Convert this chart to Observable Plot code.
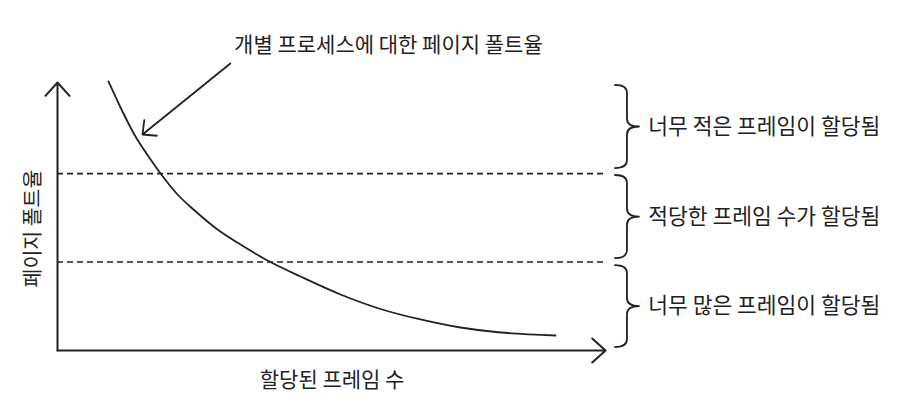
<!DOCTYPE html>
<html>
<head>
<meta charset="utf-8">
<script src="https://cdn.jsdelivr.net/npm/d3@7"></script>
<script src="https://cdn.jsdelivr.net/npm/@observablehq/plot@0.6"></script>
<style>
  html, body { margin: 0; padding: 0; background: #fff; }
  #chart svg { display: block; }
</style>
</head>
<body>
<div id="chart"></div>
<script>
// ---- data ----
const curveX = [9.32, 11.88, 14.26, 16.64, 18.83, 21.94, 24.86, 29.25, 33.46, 38.39, 44.42, 51.74, 59.05, 66.36, 73.67, 80.99, 91.04];
const curveY = [100.4, 89.18, 79.85, 72.39, 66.04, 58.21, 52.61, 45.15, 39.55, 33.58, 27.61, 20.90, 15.49, 11.57, 8.58, 6.72, 5.60];
const thresholds = [66, 33];
const bandTop = [98.9, 65.3, 31.7];
const bandBottom = [67.9, 34.3, 1.1];
const bandLabels = ["너무 적은 프레임이 할당됨", "적당한 프레임 수가 할당됨", "너무 많은 프레임이 할당됨"];
const titleText = "개별 프로세스에 대한 페이지 폴트율";
const xLabel = "할당된 프레임 수";
const yLabel = "페이지 폴트율";
const annotFrom = {x: 31.6, y: 107.1};
const annotTo = {x: 15.54, y: 80.6};
const axisEnd = {x: 100.2, y: 100};

// ---- build ----
const curve = curveX.map((x, i) => ({x, y: curveY[i]}));
const bands = bandTop.map((t, i) => ({top: t, bottom: bandBottom[i], mid: (t + bandBottom[i]) / 2, label: bandLabels[i]}));
const ink = "#222";
const font = "'Noto Sans CJK KR', 'Noto Sans', sans-serif";

const braceX = 104.2;
const labelX = 108.0;

const plot = Plot.plot({
  width: 908,
  height: 411,
  marginLeft: 57,
  marginRight: 304,
  marginTop: 82,
  marginBottom: 61,
  x: {domain: [0, 100], axis: null},
  y: {domain: [0, 100], axis: null},
  style: {fontFamily: font, background: "white", overflow: "visible"},
  marks: [
    // dashed thresholds
    Plot.ruleY(thresholds, {y: d => d, x1: 0, x2: 100.5, stroke: ink, strokeWidth: 1.6, strokeDasharray: "6,4"}),
    // axes with arrows
    Plot.arrow([{x1: 0, y1: 0, x2: 0, y2: axisEnd.y}], {x1: "x1", y1: "y1", x2: "x2", y2: "y2", stroke: ink, strokeWidth: 2, headAngle: 84, headLength: 13.5}),
    Plot.arrow([{x1: 0, y1: 0, x2: axisEnd.x, y2: 0}], {x1: "x1", y1: "y1", x2: "x2", y2: "y2", stroke: ink, strokeWidth: 2, headAngle: 84, headLength: 13.5}),
    // curve
    Plot.line(curve, {x: "x", y: "y", curve: "catmull-rom", stroke: ink, strokeWidth: 1.8}),
    // annotation arrow
    Plot.arrow([{x1: annotFrom.x, y1: annotFrom.y, x2: annotTo.x, y2: annotTo.y}], {x1: "x1", y1: "y1", x2: "x2", y2: "y2", stroke: ink, strokeWidth: 1.8, headAngle: 88, headLength: 12}),
    // braces
    Plot.ruleX(bands, {
      x: () => braceX, y1: "top", y2: "bottom",
      render(index, scales, values) {
        const g = d3.create("svg:g")
          .attr("fill", "none").attr("stroke", ink).attr("stroke-width", 1.8)
          .attr("stroke-linecap", "round").attr("stroke-linejoin", "round");
        for (const i of index) {
          const x0 = values.x[i];
          const t = values.y1[i], b = values.y2[i];
          const m = (t + b) / 2;
          const w = 12, p = 12, r = 8;
          const path = d3.path();
          path.moveTo(x0 - w, t);
          path.quadraticCurveTo(x0, t, x0, t + r);
          path.lineTo(x0, m - r);
          path.quadraticCurveTo(x0, m, x0 + p, m);
          path.quadraticCurveTo(x0, m, x0, m + r);
          path.lineTo(x0, b - r);
          path.quadraticCurveTo(x0, b, x0 - w, b);
          g.append("path").attr("d", path.toString());
        }
        return g.node();
      }
    }),
    // band labels
    Plot.text(bands, {x: () => labelX, y: "mid", text: "label", textAnchor: "start", fontSize: 21.5, fill: ink}),
    // title
    Plot.text([titleText], {x: 60.5, y: 113.8, text: d => d, fontSize: 21, fill: ink}),
    // axis labels
    Plot.text([xLabel], {x: 50.2, y: -11.2, text: d => d, fontSize: 21, fill: ink}),
    Plot.text([yLabel], {x: -4.39, y: 45.5, text: d => d, fontSize: 20.5, rotate: -90, fill: ink})
  ]
});

document.getElementById("chart").append(plot);
</script>
</body>
</html>
